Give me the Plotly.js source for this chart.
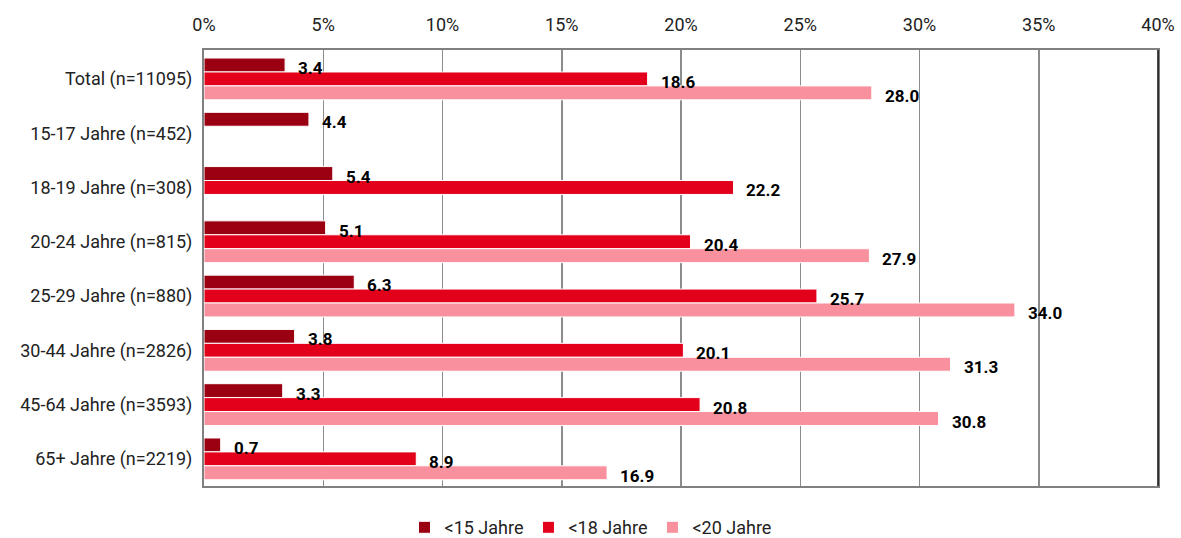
<!DOCTYPE html>
<html><head><meta charset="utf-8">
<script src="https://cdn.plot.ly/plotly-3.0.1.min.js"></script>
<style>html,body{margin:0;padding:0;background:#fff}</style>
</head><body>
<div id="chart" style="width:1181px;height:538px"></div>
<script>
const categories = ["Total (n=11095)","15-17 Jahre (n=452)","18-19 Jahre (n=308)","20-24 Jahre (n=815)","25-29 Jahre (n=880)","30-44 Jahre (n=2826)","45-64 Jahre (n=3593)","65+ Jahre (n=2219)"];
const seriesNames = ["&lt;15 Jahre","&lt;18 Jahre","&lt;20 Jahre"];
const under15 = [3.4, 4.4, 5.4, 5.1, 6.3, 3.8, 3.3, 0.7];
const under18 = [18.6, null, 22.2, 20.4, 25.7, 20.1, 20.8, 8.9];
const under20 = [28.0, null, null, 27.9, 34.0, 31.3, 30.8, 16.9];
const colors = ["#9B0012", "#E3001B", "#F8909D"];
const xTicks = [0,5,10,15,20,25,30,35,40];

const FONT = "'Liberation Sans Narrow', 'Arial Narrow', Roboto, sans-serif";
const series = [under15, under18, under20];
const bargap = 0.23;
const barW = (1 - bargap) / 3;

const traces = series.map((vals, i) => ({
  type: 'bar', orientation: 'h',
  name: seriesNames[i],
  y: categories, x: vals,
  marker: {color: colors[i], line: {color: '#ffffff', width: 1}},
  hoverinfo: 'x+y'
}));

const annotations = [];
series.forEach((vals, i) => {
  vals.forEach((v, j) => {
    if (v === null) return;
    annotations.push({
      x: v, y: j + (i - 1) * barW, xref: 'x', yref: 'y',
      text: v.toFixed(1), showarrow: false,
      xanchor: 'left', yanchor: 'middle', xshift: 11, yshift: -3,
      font: {family: FONT, size: 17, color: '#000', weight: 'bold'}
    });
  });
});

const layout = {
  width: 1181, height: 538,
  margin: {l: 204, r: 23, t: 50, b: 52, autoexpand: false},
  paper_bgcolor: '#fff', plot_bgcolor: '#fff',
  barmode: 'group', bargap: bargap, bargroupgap: 0,
  font: {family: FONT, size: 18, color: '#222'},
  xaxis: {
    side: 'top', range: [0, 40], tickvals: xTicks,
    ticktext: xTicks.map(t => t + '%'),
    showgrid: true, gridcolor: '#8c8c8c', gridwidth: 1.5,
    zeroline: false, showline: true, linecolor: '#808080', linewidth: 2, mirror: true,
    ticks: '', ticklabelstandoff: 10,
    tickfont: {family: FONT, size: 18, color: '#222'}, fixedrange: true, automargin: false
  },
  yaxis: {
    type: 'category', autorange: 'reversed',
    showgrid: false, zeroline: false, showline: true, linecolor: '#808080', linewidth: 2, mirror: true,
    ticks: '', ticklabelstandoff: 6, automargin: false,
    tickfont: {family: FONT, size: 18, color: '#222'}, fixedrange: true
  },
  shapes: [{type: 'line', xref: 'paper', yref: 'paper', x0: 1, x1: 1, y0: 0, y1: 1, line: {color: '#111', width: 1.5}}],
  legend: {orientation: 'h', x: 0.5, xanchor: 'center', xref: 'container', y: -0.053, yanchor: 'top', yref: 'paper',
    font: {family: FONT, size: 18, color: '#222'}, traceorder: 'normal'},
  annotations: annotations,
  showlegend: true
};
Plotly.newPlot('chart', traces, layout, {displayModeBar: false, staticPlot: true});
</script>
</body></html>
